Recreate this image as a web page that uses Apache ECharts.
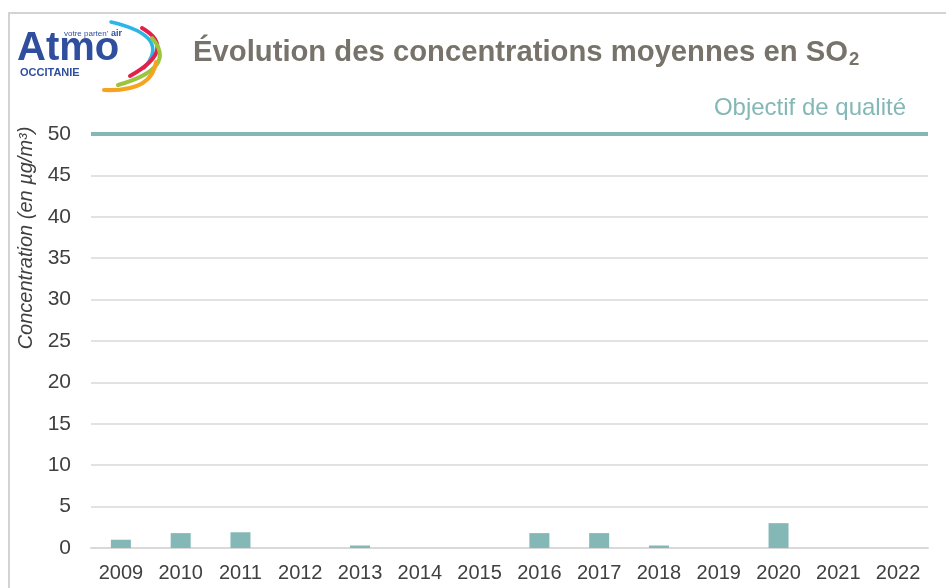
<!DOCTYPE html>
<html>
<head>
<meta charset="utf-8">
<script src="https://cdn.jsdelivr.net/npm/echarts@6/dist/echarts.min.js"></script>
<style>
  html, body { margin: 0; padding: 0; background: #fff; }
  #main { width: 946px; height: 588px; }
</style>
</head>
<body>
<div id="main"></div>
<script>
// données
const years = ['2009', '2010', '2011', '2012', '2013', '2014', '2015', '2016', '2017', '2018', '2019', '2020', '2021', '2022']
const so2Values = [1, 1.8, 1.9, null, 0.3, null, null, 1.8, 1.8, 0.3, null, 3, null, null]
const objectifQualite = 50
const yTicks = [0, 50, 5]  // min, max, intervalle

const font = '"Liberation Sans", Arial, sans-serif'
const teal = '#84b8b6'
const blue = '#2f4f9e'

let myChart = echarts.init(document.getElementById('main'))

let option = {
    backgroundColor: '#fff',
    animation: false,
    grid: { left: 91, right: 18, top: 134, bottom: 40 },
    graphic: [
        // cadre
        { type: 'polyline', shape: { points: [[9, 588], [9, 13], [946, 13]] },
          style: { stroke: '#d3d3d3', lineWidth: 2, fill: null } },
        // logo
        { type: 'text', left: 17, top: 29, style: { text: 'Atmo', font: 'bold 40px ' + font, fill: blue } },
        { type: 'text', left: 20, top: 67, style: { text: 'OCCITANIE', font: 'bold 11px ' + font, fill: blue } },
        { type: 'text', left: 64, top: 30, style: { text: "votre parten'", font: '8px ' + font, fill: blue } },
        { type: 'text', left: 111, top: 29, style: { text: 'air', font: 'bold 9px ' + font, fill: blue } },
        { type: 'bezierCurve', shape: { x1: 111, y1: 22, cpx1: 172, cpy1: 36, x2: 144, y2: 68 },
          style: { stroke: '#2ab7e6', lineWidth: 3.5, fill: null, lineCap: 'round' } },
        { type: 'bezierCurve', shape: { x1: 142, y1: 28, cpx1: 178, cpy1: 49, x2: 130, y2: 76 },
          style: { stroke: '#e2204b', lineWidth: 4, fill: null, lineCap: 'round' } },
        { type: 'bezierCurve', shape: { x1: 152, y1: 38, cpx1: 178, cpy1: 68, x2: 118, y2: 85 },
          style: { stroke: '#9cc43c', lineWidth: 4, fill: null, lineCap: 'round' } },
        { type: 'bezierCurve', shape: { x1: 156, y1: 62, cpx1: 152, cpy1: 92, x2: 104, y2: 90 },
          style: { stroke: '#f6a31f', lineWidth: 4, fill: null, lineCap: 'round' } },
        // titre
        { type: 'text', x: 193, y: 36, scaleX: 0.975, style: {
            text: '{t|Évolution des concentrations moyennes en SO}{s|2}',
            rich: {
                t: { font: 'bold 30px ' + font, fill: '#77736b' },
                s: { font: 'bold 19px ' + font, fill: '#77736b', padding: [14, 0, 0, 1] }
            }
        } },
        // titre de l'axe y
        { type: 'text', x: 26, y: 238, rotation: Math.PI / 2, style: {
            text: 'Concentration (en µg/m³)', font: 'italic 20px ' + font,
            fill: '#404040', align: 'center', verticalAlign: 'middle'
        } }
    ],
    xAxis: {
        type: 'category',
        data: years,
        axisTick: { show: false },
        axisLine: { lineStyle: { color: '#d9d9d9', width: 2 } },
        axisLabel: { color: '#404040', fontSize: 20, fontFamily: font, margin: 15, interval: 0 }
    },
    yAxis: {
        type: 'value',
        min: yTicks[0],
        max: yTicks[1],
        interval: yTicks[2],
        axisLine: { show: false },
        axisTick: { show: false },
        axisLabel: { color: '#404040', fontSize: 21, fontFamily: font, margin: 20 },
        splitLine: { lineStyle: { color: '#d9d9d9', width: 1.5 } }
    },
    series: [{
        type: 'bar',
        data: so2Values,
        barWidth: 20,
        itemStyle: { color: teal },
        markLine: {
            silent: true,
            symbol: 'none',
            lineStyle: { color: teal, width: 4, type: 'solid' },
            label: {
                position: 'insideEndTop',
                formatter: 'Objectif de qualité',
                color: teal,
                fontSize: 24,
                fontFamily: font,
                distance: [22, 14]
            },
            data: [{ yAxis: objectifQualite }]
        }
    }]
}
myChart.setOption(option)
</script>
</body>
</html>
